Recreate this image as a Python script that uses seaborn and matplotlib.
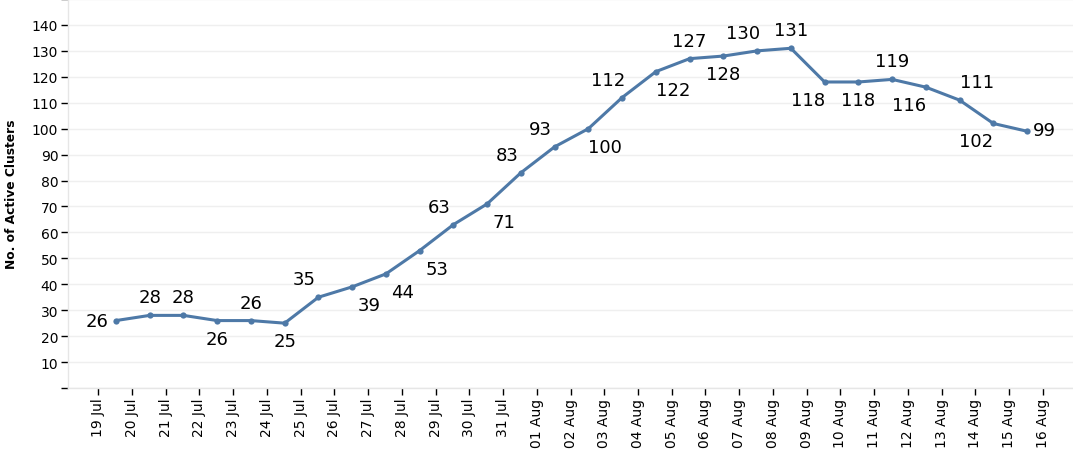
import numpy as np
import pandas as pd
import matplotlib
matplotlib.use("Agg")
import matplotlib.pyplot as plt
import seaborn as sns

# --- data ---
dates = pd.date_range("2020-07-19", "2020-08-16", freq="D")
date_labels = [d.strftime("%d %b") for d in dates]

active_clusters = [26, 28, 28, 26, 26, 25, 35, 39, 44, 53, 63, 71, 83, 93,
                   100, 112, 122, 127, 128, 130, 131, 118, 118, 119, 116,
                   111, 102, 99]

# where each value label sits relative to its point
label_side = ["l", "a", "a", "b", "a", "b", "al", "br", "br", "br", "al",
              "br", "al", "al", "br", "al", "br", "a", "b", "al", "a", "bl",
              "b", "a", "bl", "ar", "bl", "r"]

SIDE_OFFSETS = {
    "l": (-19, 0), "r": (17, 1), "a": (0, 18), "b": (0, -18),
    "al": (-14, 18), "ar": (17, 18), "bl": (-17, -18), "br": (17, -18),
}

LINE_COLOR = "#4e79a7"

sns.set_style("white")
plt.rcParams["font.family"] = ["DejaVu Sans"]

df = pd.DataFrame({"x": np.arange(len(active_clusters)), "value": active_clusters})

fig = plt.figure(figsize=(10.73, 4.6), dpi=100)
ax = fig.add_axes([68 / 1073, 1 - 389 / 460, 1 - 68 / 1073, 389 / 460])

sns.lineplot(data=df, x="x", y="value", ax=ax, color=LINE_COLOR, linewidth=2.2,
             marker="o", markersize=4.5, markeredgewidth=0)

for x, v, side in zip(df["x"], df["value"], label_side):
    dx, dy = SIDE_OFFSETS[side]
    ax.annotate(str(v), (x, v), xytext=(dx, dy), textcoords="offset pixels",
                ha="center", va="center", fontsize=13, color="black")

# date ticks sit a bit left of the points, like the original
tick_pos = np.arange(len(date_labels)) - 0.53
ax.set_xticks(tick_pos)
ax.set_xticklabels(date_labels, rotation=90, fontsize=10)
ax.set_xlim(-1.42, 28.36)

ax.set_ylim(0, 150)
yt = np.arange(0, 151, 10)
ax.set_yticks(yt)
ax.set_yticklabels(["" if (t == 0 or t == 150) else str(t) for t in yt], fontsize=10)
ax.yaxis.grid(True, color="#efefef", linewidth=1)
ax.tick_params(axis="both", length=5, width=1, color="black", labelcolor="black",
               pad=2, direction="out")
ax.tick_params(axis="y", left=True)
ax.tick_params(axis="x", bottom=True)

for side in ["top", "right"]:
    ax.spines[side].set_visible(False)
for side in ["left", "bottom"]:
    ax.spines[side].set_color("#e6e6e6")
    ax.spines[side].set_linewidth(1)

ax.set_xlabel("")
ax.set_ylabel("No. of Active Clusters", fontsize=8.8, fontweight="bold", color="black")
ax.yaxis.set_label_coords(-0.05, 0.5)

fig.savefig("out.png", dpi=100)
